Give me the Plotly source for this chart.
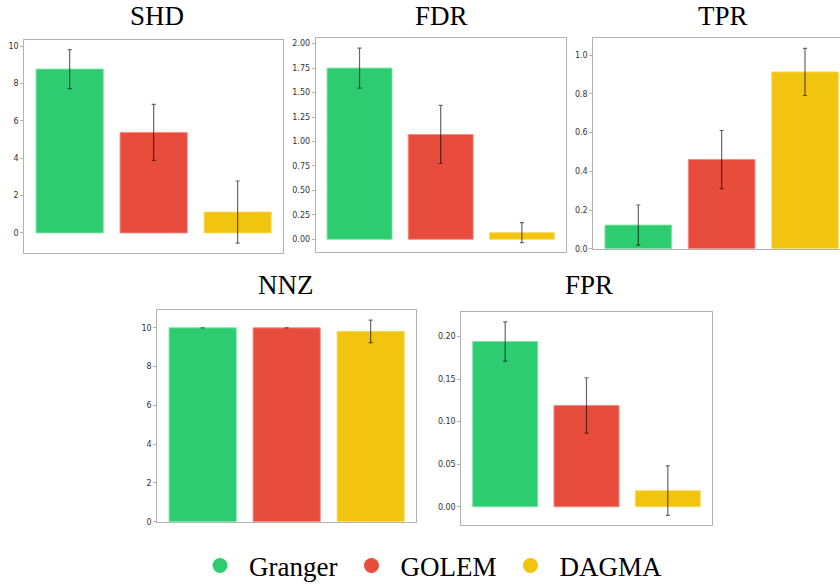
import plotly.graph_objects as go

methods = ["Granger", "GOLEM", "DAGMA"]
colors = ["#2ecc71", "#e74c3c", "#f1c40f"]
edge_colors = ["rgba(120,230,160,0.9)", "rgba(245,140,130,0.9)", "rgba(250,220,100,0.9)"]

metrics = ["SHD", "FDR", "TPR", "NNZ", "FPR"]
shd_mean = [8.77, 5.38, 1.12]
shd_err = [1.04, 1.50, 1.66]
fdr_mean = [1.750, 1.072, 0.069]
fdr_err = [0.205, 0.297, 0.102]
tpr_mean = [0.122, 0.461, 0.914]
tpr_err = [0.104, 0.150, 0.122]
nnz_mean = [10.0, 10.0, 9.82]
nnz_err = [0.0, 0.0, 0.58]
fpr_mean = [0.194, 0.119, 0.019]
fpr_err = [0.023, 0.0325, 0.029]

means = [shd_mean, fdr_mean, tpr_mean, nnz_mean, fpr_mean]
errs = [shd_err, fdr_err, tpr_err, nnz_err, fpr_err]
dticks = [2, 0.25, 0.2, 2, 0.05]
tickfmts = ["d", ".2f", ".1f", "d", ".2f"]

W, H = 840, 586
# plot frames in pixels: (left, right, top, bottom)
frames = [
    (24.3, 283.0, 40.0, 252.7),
    (315.7, 565.7, 38.3, 252.3),
    (593.3, 840.0, 38.3, 248.7),
    (157.3, 416.0, 310.0, 521.7),
    (461.3, 711.7, 312.3, 525.0),
]
xranges = [[-0.54, 2.54], [-0.54, 2.54], [-0.54, 2.42], [-0.54, 2.54], [-0.54, 2.54]]
# title anchor: (x center, y px, anchor)
title_pos = [(156.7, 0.0, "top"), (441.0, 0.0, "top"), (723.0, 0.0, "top"),
             (285.7, 285.0, "middle"), (588.5, 285.0, "middle")]

fig = go.Figure()
layout = dict(width=W, height=H,
              margin=dict(l=0, r=0, t=0, b=0, pad=0, autoexpand=False),
              paper_bgcolor="white", plot_bgcolor="white", bargap=0.2,
              showlegend=True)

annotations = []
for i, name in enumerate(metrics):
    sfx = "" if i == 0 else str(i + 1)
    l, r, t, b = frames[i]
    m, e = means[i], errs[i]
    lo = min(0, min(mm - ee for mm, ee in zip(m, e)))
    hi = max(mm + ee for mm, ee in zip(m, e))
    if lo < 0:
        span = hi - lo
        lo -= 0.05 * span
        hi += 0.05 * span
    else:
        hi += 0.05 * hi
    fig.add_trace(go.Bar(
        x=[0, 1, 2], y=m, width=0.8,
        marker=dict(color=colors, line=dict(color=edge_colors, width=1)),
        error_y=dict(type="data", array=e, color="rgba(0,0,0,0.6)", thickness=1.2, width=2),
        xaxis="x" + sfx, yaxis="y" + sfx, showlegend=False, hoverinfo="skip"))
    layout["xaxis" + sfx] = dict(
        domain=[l / W, r / W], range=xranges[i], anchor="y" + sfx,
        showticklabels=False, ticks="", showgrid=False, zeroline=False,
        showline=True, linecolor="#b3b3b3", linewidth=1, mirror=True)
    layout["yaxis" + sfx] = dict(
        domain=[1 - b / H, 1 - t / H], range=[lo, hi], anchor="x" + sfx,
        dtick=dticks[i], tick0=0, tickformat=tickfmts[i],
        ticks="outside", ticklen=3, tickcolor="#b3b3b3", tickwidth=1,
        tickfont=dict(family="DejaVu Sans", size=8, color="#333333"),
        showgrid=False, zeroline=False,
        showline=True, linecolor="#b3b3b3", linewidth=1,
        mirror=(i != 2))
    tx, ty, anc = title_pos[i]
    annotations.append(dict(
        text=name, x=tx / W, y=1 - ty / H, xref="paper", yref="paper",
        xanchor="center", yanchor=anc, showarrow=False, borderpad=0,
        font=dict(family="Liberation Serif", size=27, color="black")))

for name, c in zip(methods, colors):
    fig.add_trace(go.Scatter(
        x=[None], y=[None], mode="markers", name=name,
        marker=dict(symbol="circle", size=15, color=c),
        xaxis="x", yaxis="y", hoverinfo="skip"))

layout["annotations"] = annotations
layout["legend"] = dict(
    orientation="h", x=191 / W, xanchor="left", y=1 - 566 / H, yanchor="middle",
    font=dict(family="Liberation Serif", size=27, color="black"),
    itemwidth=48, bgcolor="rgba(0,0,0,0)", traceorder="normal")
fig.update_layout(**layout)
fig.write_html("out.html", config={"displayModeBar": False},
               post_script="document.body.style.margin='0';document.body.style.overflow='hidden';")
